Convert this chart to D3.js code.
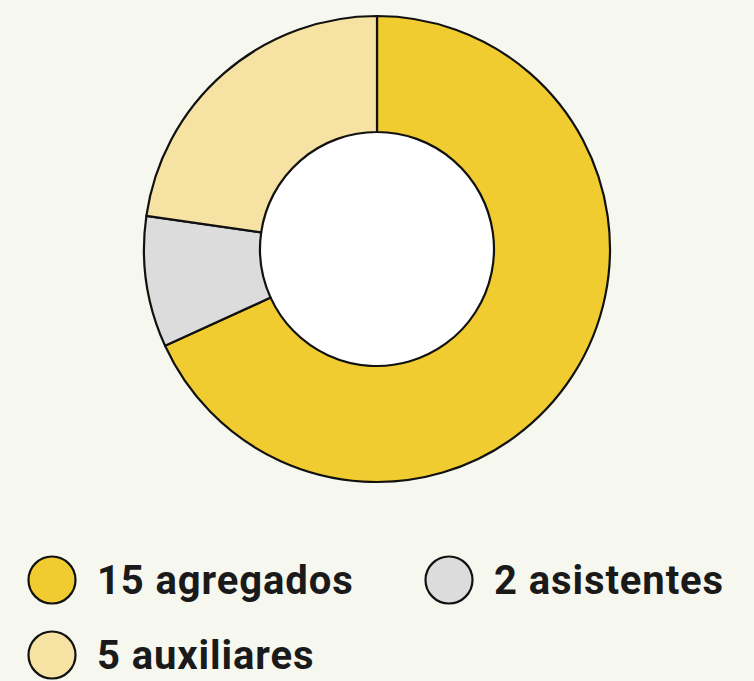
<!DOCTYPE html>
<html>
<head>
<meta charset="utf-8">
<script src="https://cdn.jsdelivr.net/npm/d3@7"></script>
<style>
  html, body { margin: 0; padding: 0; background: #f6f7ee; }
  svg { display: block; }
  .legend text { font-family: Roboto, "DejaVu Sans", sans-serif; font-weight: 700; fill: #1a1a1a; letter-spacing: 0.9px; }
</style>
</head>
<body>
<div id="chart"></div>
<script>
// Personal del grupo
var categories = ["agregados", "asistentes", "auxiliares"];
var counts = [15, 2, 5];
var colors = ["#f0cc30", "#dcdcdc", "#f6e3a3"];

var width = 754;
var height = 681;

var cx = 377;
var cy = 249;
var outerR = 233;
var innerR = 117;

var svg = d3.select("#chart")
    .append("svg")
    .attr("width", width)
    .attr("height", height);

var data = categories.map(function(c, i) {
    return { name: c, value: counts[i], color: colors[i] };
});

var pie = d3.pie()
    .value(function(d) { return d.value; })
    .sort(null);

var arc = d3.arc()
    .innerRadius(innerR)
    .outerRadius(outerR);

var g = svg.append("g")
    .attr("transform", "translate(" + cx + "," + cy + ")");

g.append("circle")
    .attr("r", innerR)
    .attr("fill", "#ffffff");

g.selectAll("path")
    .data(pie(data))
    .enter()
    .append("path")
    .attr("d", arc)
    .attr("fill", function(d) { return d.data.color; })
    .attr("stroke", "#111")
    .attr("stroke-width", 2.2)
    .attr("stroke-linejoin", "round");

// Legend
var legendPos = [
    { x: 52, y: 580 },
    { x: 449, y: 580 },
    { x: 52, y: 655 }
];

var legend = svg.append("g").attr("class", "legend");

var items = legend.selectAll("g")
    .data(data)
    .enter()
    .append("g")
    .attr("transform", function(d, i) {
        return "translate(" + legendPos[i].x + "," + legendPos[i].y + ")";
    });

items.append("circle")
    .attr("r", 23.5)
    .attr("fill", function(d) { return d.color; })
    .attr("stroke", "#111")
    .attr("stroke-width", 2.2);

items.append("text")
    .attr("x", 45)
    .attr("y", 14)
    .style("font-size", "40px")
    .text(function(d) { return d.value + " " + d.name; });
</script>
</body>
</html>
